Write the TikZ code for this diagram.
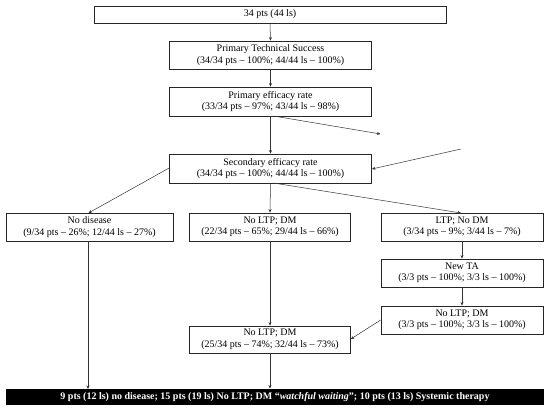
\documentclass[tikz,border=0pt]{standalone}
\usepackage{fontspec}
\setmainfont{Liberation Serif}
\usetikzlibrary{arrows.meta}
\begin{document}
\begin{tikzpicture}[x=1pt,y=-1pt,
  every node/.style={font=\fontsize{10}{11.5}\selectfont},
  box/.style={draw=black!85,line width=0.8pt,fill=white,align=center,inner sep=0pt,minimum height=28pt},
  arr/.style={draw=black!80,line width=0.5pt,-{Stealth[length=3.5pt,width=3pt]}}]
\fill[white] (0,0) rectangle (550,413);
\node[box,minimum width=352pt,minimum height=17pt] (top) at (270,14.5) {34 pts (44 ls)};
\node[box,minimum width=202pt] (pts) at (270.5,55) {Primary Technical Success\\(34/34 pts -- 100\%; 44/44 ls -- 100\%)};
\node[box,minimum width=202pt,minimum height=29pt] (per) at (270.5,101.5) {Primary efficacy rate\\(33/34 pts -- 97\%; 43/44 ls -- 98\%)};
\node[box,minimum width=202pt,minimum height=29pt] (ser) at (270.5,168.5) {Secondary efficacy rate\\(34/34 pts -- 100\%; 44/44 ls -- 100\%)};
\node[box,minimum width=167pt] (nd) at (89.5,227) {No disease\\(9/34 pts -- 26\%; 12/44 ls -- 27\%)};
\node[box,minimum width=161pt] (nld) at (270,227) {No LTP; DM\\(22/34 pts -- 65\%; 29/44 ls -- 66\%)};
\node[box,minimum width=162pt] (lnd) at (462,227) {LTP; No DM\\(3/34 pts -- 9\%; 3/44 ls -- 7\%)};
\node[box,minimum width=162pt] (nta) at (462,273) {New TA\\(3/3 pts -- 100\%; 3/3 ls -- 100\%)};
\node[box,minimum width=162pt] (nld2) at (462,320) {No LTP; DM\\(3/3 pts -- 100\%; 3/3 ls -- 100\%)};
\node[box,minimum width=161pt,minimum height=27pt] (nld3) at (270,339.5) {No LTP; DM\\(25/34 pts -- 74\%; 32/44 ls -- 73\%)};
\node[fill=black,text=white,inner sep=0pt,minimum width=538pt,minimum height=16.5pt,font=\bfseries\fontsize{10}{11.5}\selectfont] (bar) at (275,397) {9 pts (12 ls) no disease; 15 pts (19 ls) No LTP; DM “\textit{watchful waiting}”; 10 pts (13 ls) Systemic therapy};
\coordinate (out) at (380.5,134);
\coordinate (in) at (461,149);
\draw[arr] (top.south) -- (pts.north);
\draw[arr] (pts.south) -- (per.north);
\draw[arr] (per.south) -- (ser.north);
\draw[arr] (273.5,116) -- (out);
\draw[arr] (in) -- (ser.east |- 0,169);
\draw[arr] (ser.west |- 0,168) -- (88.5,213);
\draw[arr] (ser.south) -- (nld.north);
\draw[arr] (273.5,183) -- (461,213);
\draw[arr] (lnd.south) -- (nta.north);
\draw[arr] (nta.south) -- (nld2.north);
\draw[arr] (nld2.west |- 0,320) -- (nld3.east |- 0,339);
\draw[arr] (nd.south) ++(-1.5,0) -- (88,389);
\draw[arr] (nld.south) -- (nld3.north);
\draw[arr] (nld3.south) -- (bar.north -| nld3.south);
\end{tikzpicture}
\end{document}
